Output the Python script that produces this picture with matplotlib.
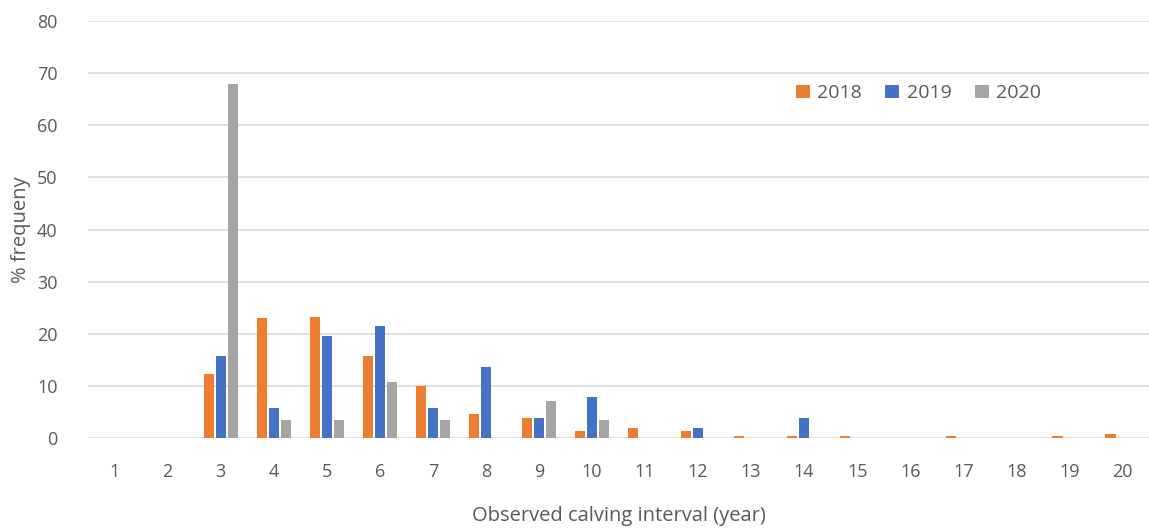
import numpy as np
import matplotlib.pyplot as plt

plt.rcParams['font.family'] = ['Open Sans', 'DejaVu Sans']

intervals = list(range(1, 21))
freq_2018 = [0, 0, 12.3, 23.0, 23.2, 15.7, 10.0, 4.6, 3.9, 1.3, 1.9, 1.3, 0.3, 0.3, 0.3, 0, 0.3, 0, 0.3, 0.7]
freq_2019 = [0, 0, 15.7, 5.8, 19.6, 21.5, 5.8, 13.7, 3.9, 7.8, 0, 1.9, 0, 3.9, 0, 0, 0, 0, 0, 0]
freq_2020 = [0, 0, 67.9, 3.5, 3.5, 10.7, 3.5, 0, 7.1, 3.5, 0, 0, 0, 0, 0, 0, 0, 0, 0, 0]

series = [("2018", freq_2018, "#ED7D31"),
          ("2019", freq_2019, "#4472C4"),
          ("2020", freq_2020, "#A5A5A5")]

fig = plt.figure(figsize=(11.49, 5.28), dpi=100)
ax = fig.add_axes([0.0766, 0.1705, 0.9234, 0.7895])

x = np.array(intervals)
width = 0.19
step = 0.225
for i, (name, vals, col) in enumerate(series):
    ax.bar(x + (i - 1) * step, vals, width=width, color=col, label=name, zorder=3)

ax.set_xlim(0.5, 20.5)
ax.set_ylim(0, 80)
ax.set_yticks(range(0, 81, 10))
ax.set_xticks(intervals)
ax.grid(axis='y', color='#d9d9d9', linewidth=1.2, zorder=0)
for s in ax.spines.values():
    s.set_visible(False)
ax.tick_params(length=0, labelsize=13, colors='#595959')
ax.tick_params(axis='x', pad=18)
ax.tick_params(axis='y', pad=22)

ax.set_xlabel("Observed calving interval (year)", fontsize=14.5, color='#595959', labelpad=18)
ax.set_ylabel("% frequeny", fontsize=14.5, color='#595959', labelpad=4)

ax.legend(loc='upper right', bbox_to_anchor=(0.915, 0.89), ncol=3, frameon=False,
          fontsize=14, labelcolor='#595959', handlelength=0.7, handleheight=0.7,
          columnspacing=1.2, handletextpad=0.4)

fig.savefig("out.png", dpi=100)
